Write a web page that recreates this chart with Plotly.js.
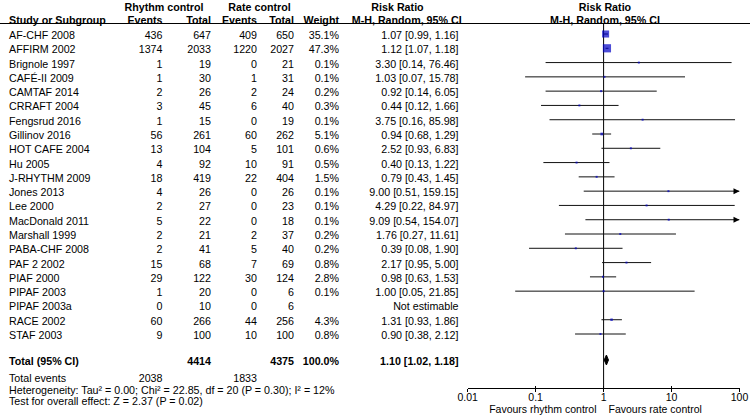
<!DOCTYPE html>
<html><head><meta charset="utf-8">
<script src="https://cdn.plot.ly/plotly-3.0.1.min.js"></script>
<style>html,body{margin:0;padding:0;background:#fff}</style>
</head><body><div id="chart" style="width:750px;height:417px"></div>
<script>
// ---------- data ----------
const studies = ["AF-CHF 2008","AFFIRM 2002","Brignole 1997","CAFÉ-II 2009","CAMTAF 2014","CRRAFT 2004","Fengsrud 2016","Gillinov 2016","HOT CAFE 2004","Hu 2005","J-RHYTHM 2009","Jones 2013","Lee 2000","MacDonald 2011","Marshall 1999","PABA-CHF 2008","PAF 2 2002","PIAF 2000","PIPAF 2003","PIPAF 2003a","RACE 2002","STAF 2003"];
const rhythmEvents = [436,1374,1,1,2,3,1,56,13,4,18,4,2,5,2,2,15,29,1,0,60,9];
const rhythmTotal  = [647,2033,19,30,26,45,15,261,104,92,419,26,27,22,21,41,68,122,20,10,266,100];
const rateEvents   = [409,1220,0,1,2,6,0,60,5,10,22,0,0,0,2,5,7,30,0,0,44,10];
const rateTotal    = [650,2027,21,31,24,40,19,262,101,91,404,26,23,18,37,40,69,124,6,6,256,100];
const weight = [35.1,47.3,0.1,0.1,0.2,0.3,0.1,5.1,0.6,0.5,1.5,0.1,0.1,0.1,0.2,0.2,0.8,2.8,0.1,null,4.3,0.8];
const rr     = [1.07,1.12,3.30,1.03,0.92,0.44,3.75,0.94,2.52,0.40,0.79,9.00,4.29,9.09,1.76,0.39,2.17,0.98,1.00,null,1.31,0.90];
const ciLow  = [0.99,1.07,0.14,0.07,0.14,0.12,0.16,0.68,0.93,0.13,0.43,0.51,0.22,0.54,0.27,0.08,0.95,0.63,0.05,null,0.93,0.38];
const ciHigh = [1.16,1.18,76.46,15.78,6.05,1.66,85.98,1.29,6.83,1.22,1.45,159.15,84.97,154.07,11.61,1.90,5.00,1.53,21.85,null,1.86,2.12];
const totalRhythmEvents = 2038, totalRhythmN = 4414, totalRateEvents = 1833, totalRateN = 4375;
const totalWeight = "100.0%";
const totalRR = 1.10, totalLow = 1.02, totalHigh = 1.18;
const heterogeneityText = "Heterogeneity: Tau² = 0.00; Chi² = 22.85, df = 20 (P = 0.30); I² = 12%";
const overallText = "Test for overall effect: Z = 2.37 (P = 0.02)";
const tickVals = [0.01,0.1,1,10,100];
const tickText = ["0.01","0.1","1","10","100"];
const favLeft = "Favours rhythm control", favRight = "Favours rate control";
const nullValue = 1;

// ---------- layout helpers (pixel positions) ----------
const FONT = "Liberation Sans, Arial, sans-serif";
const FS = 10.7;
const rowY = i => 34 + i * 14.286;
const yTotal = 360, yTotEv = 377.3, yHet = 388.6, yTest = 400.3;
const yH1 = 6, yH2 = 18.5, yLine = 23.5, yAxis = 388;
const colStudy = 9, colREv = 162.5, colRN = 211, colCEv = 257, colCN = 294, colW = 339, colCI = 458.5;
const xMax = 100, xMin = 0.01;

const f2 = v => v.toFixed(2);
const ciStr = (e,l,h) => e == null ? "Not estimable" : `${f2(e)} [${f2(l)}, ${f2(h)}]`;

const traces = [];
function txt(x, y, texts, pos, bold, size) {
  const s = size || FS;
  traces.push({type:'scatter', mode:'text', xaxis:'x', yaxis:'y',
    x: x, y: y.map(v => v + 0.22 * s), text: texts.map(t => bold ? `<b>${t}</b>` : t),
    textposition: pos, textfont:{family:FONT, size:s, color:'#000'},
    hoverinfo:'skip', showlegend:false, cliponaxis:false});
}
const ys = studies.map((_, i) => rowY(i));
const rep = v => studies.map(() => v);

// headers
txt([164],[yH1],["Rhythm control"],'middle center',true);
txt([259.5],[yH1],["Rate control"],'middle center',true);
txt([397.5],[yH1],["Risk Ratio"],'middle center',true);
txt([605],[yH1],["Risk Ratio"],'middle center',true);
txt([colStudy],[yH2],["Study or Subgroup"],'middle right',true);
txt([colREv,colRN,colCEv,colCN,colW],[yH2,yH2,yH2,yH2,yH2],["Events","Total","Events","Total","Weight"],'middle left',true);
txt([406.7],[yH2],["M-H, Random, 95% CI"],'middle center',true);
txt([605],[yH2],["M-H, Random, 95% CI"],'middle center',true);

// study rows
txt(rep(colStudy), ys, studies, 'middle right');
txt(rep(colREv), ys, rhythmEvents.map(String), 'middle left');
txt(rep(colRN), ys, rhythmTotal.map(String), 'middle left');
txt(rep(colCEv), ys, rateEvents.map(String), 'middle left');
txt(rep(colCN), ys, rateTotal.map(String), 'middle left');
txt(rep(colW), ys, weight.map(w => w == null ? "" : w.toFixed(1) + "%"), 'middle left');
txt(rep(colCI), ys, rr.map((e,i) => ciStr(e, ciLow[i], ciHigh[i])), 'middle left');

// totals
txt([colStudy],[yTotal],["Total (95% CI)"],'middle right',true);
txt([colRN,colCN,colW],[yTotal,yTotal,yTotal],[String(totalRhythmN),String(totalRateN),totalWeight],'middle left',true);
txt([colCI],[yTotal],[ciStr(totalRR,totalLow,totalHigh)],'middle left',true);
txt([colStudy],[yTotEv],["Total events"],'middle right');
txt([colREv,colCEv],[yTotEv,yTotEv],[String(totalRhythmEvents),String(totalRateEvents)],'middle left');
txt([colStudy],[yHet],[heterogeneityText],'middle right');
txt([colStudy],[yTest],[overallText],'middle right');
txt([596.5],[408],[favLeft],'middle left',false,10.5);
txt([608.5],[408],[favRight],'middle right',false,10.5);

// forest: null line
traces.push({type:'scatter', mode:'lines', xaxis:'x2', yaxis:'y2',
  x:[nullValue,nullValue], y:[yLine, yAxis], line:{color:'#000', width:1},
  hoverinfo:'skip', showlegend:false, cliponaxis:false});

// CI lines
const lx = [], ly = [];
const arrX = [], arrY = [];
rr.forEach((e, i) => {
  if (e == null) return;
  const h = Math.min(ciHigh[i], xMax), l = Math.max(ciLow[i], xMin);
  lx.push(l, h, null); ly.push(ys[i], ys[i], null);
  if (ciHigh[i] > xMax) { arrX.push(xMax); arrY.push(ys[i]); }
});
traces.push({type:'scatter', mode:'lines', xaxis:'x2', yaxis:'y2', x:lx, y:ly,
  line:{color:'#111', width:1}, hoverinfo:'skip', showlegend:false, cliponaxis:false});
traces.push({type:'scatter', mode:'markers', xaxis:'x2', yaxis:'y2', x:arrX, y:arrY,
  marker:{symbol:'arrow-right', size:6, color:'#000'}, hoverinfo:'skip', showlegend:false, cliponaxis:false});

// squares
const sqX = [], sqY = [], sqS = [];
rr.forEach((e, i) => {
  if (e == null) return;
  sqX.push(e); sqY.push(ys[i]);
  sqS.push(Math.max(2, 8.2 * Math.sqrt(weight[i] / 47.3)));
});
traces.push({type:'scatter', mode:'markers', xaxis:'x2', yaxis:'y2', x:sqX, y:sqY,
  marker:{symbol:'square', size:sqS, color:'#0000c4', line:{width:0}},
  hoverinfo:'skip', showlegend:false, cliponaxis:false});

// diamond
const dh = 5;
traces.push({type:'scatter', mode:'lines', xaxis:'x2', yaxis:'y2',
  x:[totalLow, totalRR, totalHigh, totalRR, totalLow],
  y:[yTotal, yTotal-dh, yTotal, yTotal+dh, yTotal],
  fill:'toself', fillcolor:'#000', line:{color:'#000', width:1},
  hoverinfo:'skip', showlegend:false, cliponaxis:false});

// invisible anchor for the overlay axis carrying the inner half of the ticks
traces.push({type:'scatter', mode:'markers', xaxis:'x3', yaxis:'y2', x:[nullValue], y:[yAxis],
  marker:{opacity:0}, hoverinfo:'skip', showlegend:false});

const axisCommon = {type:'log', range:[Math.log10(xMin), Math.log10(xMax)],
  domain:[467.7/750, 739.5/750], anchor:'y2', tickvals:tickVals,
  showgrid:false, zeroline:false, fixedrange:true, tickcolor:'#000', tickwidth:1};

const layout = {
  width:750, height:417, margin:{l:0,r:0,t:0,b:0},
  paper_bgcolor:'#fff', plot_bgcolor:'rgba(0,0,0,0)',
  showlegend:false, hovermode:false,
  xaxis:{range:[0,750], domain:[0,1], visible:false, fixedrange:true},
  yaxis:{range:[417,0], domain:[0,1], visible:false, fixedrange:true},
  xaxis2:Object.assign({}, axisCommon, {
    showline:true, linecolor:'#000', linewidth:1,
    ticks:'outside', ticklen:2.5, ticktext:tickText, ticklabelstandoff:-3,
    tickfont:{family:FONT, size:10.5, color:'#000'}}),
  xaxis3:Object.assign({}, axisCommon, {overlaying:'x2', showline:false,
    ticks:'inside', ticklen:2.5, showticklabels:false}),
  yaxis2:{range:[yAxis,0], domain:[(417-yAxis)/417, 1], anchor:'x2', visible:false, fixedrange:true},
  shapes:[{type:'line', xref:'paper', yref:'y', x0:0, x1:1, y0:yLine, y1:yLine,
    line:{color:'#000', width:1}}]
};
Plotly.newPlot('chart', traces, layout, {staticPlot:true, displayModeBar:false});
</script></body></html>
